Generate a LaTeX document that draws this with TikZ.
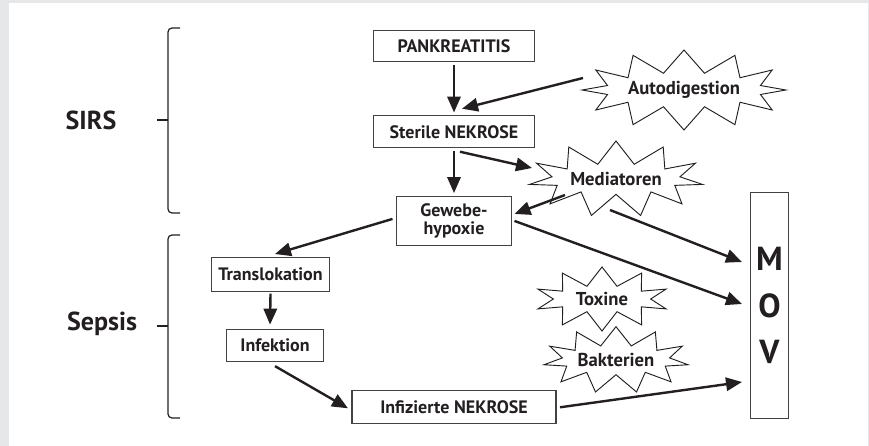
\documentclass[tikz,border=0pt]{standalone}
\usepackage{fontspec}
\setmainfont{PT Sans}
\usetikzlibrary{shapes.symbols,arrows.meta,positioning,calc}
\tikzset{every node/.append style={align=center}}
\definecolor{framegray}{RGB}{230,231,233}
\definecolor{inkcolor}{RGB}{35,31,32}

\begin{document}
\begin{tikzpicture}[
    x=0.75pt, y=-0.75pt,
    box/.style={draw=inkcolor!85, line width=0.8pt, inner sep=1pt, text=inkcolor, font=\bfseries\fontsize{13.5}{14}\selectfont},
    burst/.style={starburst, draw=inkcolor, line width=0.7pt, fill=white, starburst points=12, starburst point height=17pt, inner sep=0pt, text=inkcolor, font=\bfseries\fontsize{14}{15}\selectfont},
    arrow/.style={-{Triangle[length=12pt,width=10pt]}, line width=1.8pt, draw=inkcolor},
    group/.style={text=inkcolor, font=\bfseries\fontsize{19.5}{22}\selectfont},
    brace/.style={draw=inkcolor, line width=0.9pt, rounded corners=3pt}
]
    % Frame
    \fill[framegray] (0,0) rectangle (869,446);
    \fill[white] (9,3) rectangle (868,446);
    \useasboundingbox (0,0) rectangle (869,446);

    % Braces
    \draw[brace] (180,28) -- (168,28) -- (168,213) -- (180,213);
    \draw[brace] (157,120) -- (168,120);
    \node[group] (sirs) at (91,120) {SIRS};
    \draw[brace] (180,235) -- (168,235) -- (168,418) -- (180,418);
    \draw[brace] (157,326) -- (168,326);
    \node[group] (sepsis) at (102,324) {Sepsis};

    % Main chain
    \node[box, minimum width=121pt, minimum height=23pt] (pankreatitis) at (454,46) {PANKREATITIS};
    \node[box, minimum width=121pt, minimum height=24pt, below=40pt of pankreatitis] (sterile) {Sterile NEKROSE};
    \node[box, minimum width=86pt, minimum height=37pt, below=35.6pt of sterile, font=\bfseries\fontsize{13.5}{13.5}\selectfont] (gewebe) {Gewebe-\\hypoxie};
    \node[box, minimum width=153pt, minimum height=25pt, below=107.6pt of gewebe] (infiziert) {Infizierte NEKROSE};
    \node[box, minimum width=88pt, minimum height=25pt] (translokation) at (270.5,274.5) {Translokation};
    \node[box, minimum width=73pt, minimum height=24pt, below=27.7pt of translokation, xshift=3.4pt] (infektion) {Infektion};
    \node[box, minimum width=29pt, minimum height=169pt, font=\bfseries\fontsize{25}{35}\selectfont] (mov) at (769.5,305.5) {M\\O\\V};

    % Starbursts
    \node[burst, minimum width=141pt, minimum height=60pt, random starburst=0] (autodigestion) at (684,90) {Autodigestion};
    \node[burst, minimum width=125pt, minimum height=57pt, random starburst=0, starburst points=11] (mediatoren) at (616,179) {Mediatoren};
    \node[burst, minimum width=101pt, minimum height=48pt, random starburst=0, starburst points=10, starburst point height=14pt] (toxine) at (602,299) {Toxine};
    \node[burst, minimum width=100pt, minimum height=50pt, random starburst=0, starburst points=11, starburst point height=14pt] (bakterien) at (616,360) {Bakterien};

    % Connections
    \draw[arrow, shorten <=2pt, shorten >=2pt] (pankreatitis) -- (sterile);
    \draw[arrow] ($(autodigestion)+(-101,-12)$) -- ($(sterile)+(8,-23)$);
    \draw[arrow, shorten <=2pt, shorten >=2pt] (sterile) -- (gewebe);
    \draw[arrow] ($(sterile)+(6,20)$) -- ($(mediatoren)+(-84,-11)$);
    \draw[arrow] ($(mediatoren)+(-51,16)$) -- ($(gewebe)+(60.5,-7)$);
    \draw[arrow] ($(mediatoren)+(-6,31)$) -- ($(mov)+(-27.5,-43.5)$);
    \draw[arrow] ($(gewebe)+(60.5,0)$) -- ($(mov)+(-27.5,-1.5)$);
    \draw[arrow] ($(gewebe)+(-61.5,-2)$) -- ($(translokation)+(4.5,-20.5)$);
    \draw[arrow] ($(translokation.south)+(0,2)$) -- ($(infektion.north)+(-5,-4)$);
    \draw[arrow] ($(infektion)+(0,21)$) -- ($(infiziert)+(-106,1.5)$);
    \draw[arrow] ($(infiziert)+(106,0.5)$) -- ($(mov)+(-27.5,76.5)$);
\end{tikzpicture}
\end{document}
